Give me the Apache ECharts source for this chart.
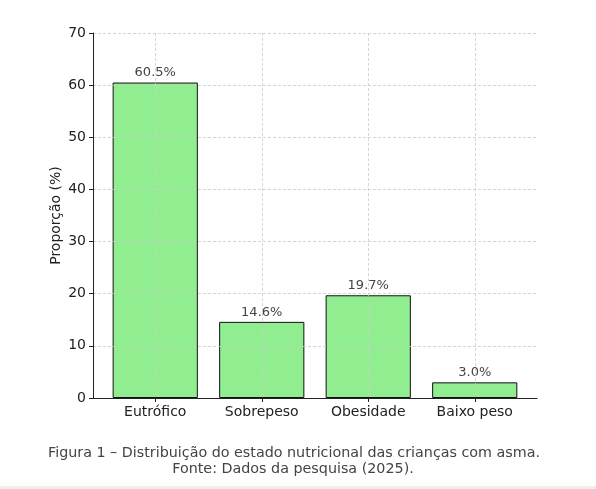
<!DOCTYPE html>
<html>
<head>
<meta charset="utf-8">
<script src="https://cdn.jsdelivr.net/npm/echarts@6/dist/echarts.min.js"></script>
<style>
  html, body { margin: 0; padding: 0; background: #fff; }
  #chart { width: 596px; height: 489px; }
</style>
</head>
<body>
<div id="chart"></div>
<script>
// dados da figura
var categorias = ['Eutrófico', 'Sobrepeso', 'Obesidade', 'Baixo peso'];
var proporcao = [60.5, 14.6, 19.7, 3.0];
var yTicks = [0, 70, 10]; // min, max, intervalo
var legenda = [
  'Figura 1 – Distribuição do estado nutricional das crianças com asma.',
  'Fonte: Dados da pesquisa (2025).'
];

var chart = echarts.init(document.getElementById('chart'), null, { renderer: 'canvas' });
var fonte = 'DejaVu Sans';

var option = {
  backgroundColor: '#fff',
  animation: false,
  // grid 0: eixo y, linhas horizontais e linha do eixo x
  // grid 1: barras (largura de categoria como no matplotlib)
  grid: [
    { left: 93, right: 59, top: 33, bottom: 91 },
    { left: 102, right: 68, top: 33, bottom: 91 }
  ],
  xAxis: [
    {
      gridIndex: 0, type: 'value', min: 0, max: 1, z: 3,
      axisLine: { show: true, lineStyle: { color: '#222', width: 1 } },
      axisTick: { show: false }, axisLabel: { show: false }, splitLine: { show: false }
    },
    {
      gridIndex: 1, type: 'category', data: categorias, z: 3,
      axisLine: { show: false },
      axisTick: { show: true, alignWithLabel: true, inside: false, length: 4, lineStyle: { color: '#222' } },
      axisLabel: { fontFamily: fonte, fontSize: 14, color: '#222', margin: 7 },
      splitLine: { show: true, alignWithLabel: true, lineStyle: { color: '#ccc', type: [3, 2], width: 0.8 } }
    }
  ],
  yAxis: [
    {
      gridIndex: 0, type: 'value', min: yTicks[0], max: yTicks[1], interval: yTicks[2], z: 3,
      name: 'Proporção (%)', nameLocation: 'middle', nameGap: 30, nameMoveOverlap: false,
      nameTextStyle: { fontFamily: fonte, fontSize: 14, color: '#222' },
      axisLine: { show: true, lineStyle: { color: '#222', width: 1 } },
      axisTick: { show: true, length: 4, lineStyle: { color: '#222' } },
      axisLabel: { fontFamily: fonte, fontSize: 14, color: '#222', margin: 7 },
      splitLine: { show: true, lineStyle: { color: '#ccc', type: [3, 2], width: 0.8 } }
    },
    {
      gridIndex: 1, type: 'value', min: yTicks[0], max: yTicks[1], show: false,
      splitLine: { show: false }
    }
  ],
  series: [{
    type: 'bar',
    xAxisIndex: 1,
    yAxisIndex: 1,
    data: proporcao,
    barWidth: '80%',
    itemStyle: { color: '#90EE90', borderColor: '#111', borderWidth: 1 },
    label: {
      show: true, position: 'top', distance: 3,
      fontFamily: fonte, fontSize: 13, color: '#444',
      formatter: function (p) { return p.value.toFixed(1) + '%'; }
    }
  }],
  graphic: [
    {
      type: 'text', x: 294, y: 453,
      style: { text: legenda[0], font: '14.3px "DejaVu Sans"', fill: '#444', align: 'center', verticalAlign: 'middle' }
    },
    {
      type: 'text', x: 293, y: 469,
      style: { text: legenda[1], font: '14.3px "DejaVu Sans"', fill: '#444', align: 'center', verticalAlign: 'middle' }
    },
    {
      type: 'rect', left: 0, top: 486,
      shape: { width: 596, height: 3 },
      style: { fill: '#eeeeee' }, silent: true
    }
  ]
};

chart.setOption(option);
</script>
</body>
</html>
